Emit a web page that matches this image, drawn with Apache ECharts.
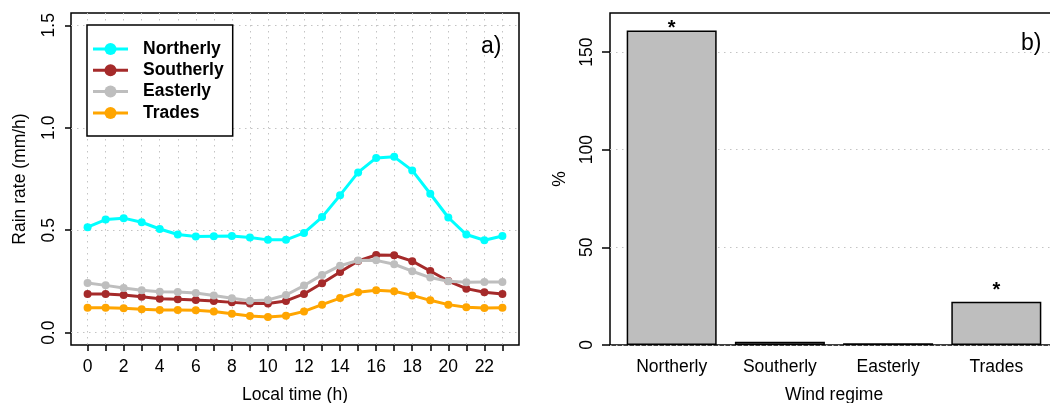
<!DOCTYPE html>
<html>
<head>
<meta charset="utf-8">
<script src="https://cdn.jsdelivr.net/npm/echarts@6/dist/echarts.min.js"></script>
<style>
html, body { margin: 0; padding: 0; background: #fff; }
#main { width: 1050px; height: 403px; }
</style>
</head>
<body>
<div id="main"></div>
<script>
// panel a) diurnal cycle of rain rate per wind regime
var hours = [0, 1, 2, 3, 4, 5, 6, 7, 8, 9, 10, 11, 12, 13, 14, 15, 16, 17, 18, 19, 20, 21, 22, 23];
var northerly = [0.515, 0.552, 0.559, 0.539, 0.506, 0.479, 0.469, 0.471, 0.472, 0.464, 0.453, 0.453,
                 0.487, 0.564, 0.671, 0.782, 0.853, 0.858, 0.792, 0.678, 0.562, 0.479, 0.451, 0.472];
var southerly = [0.189, 0.189, 0.184, 0.176, 0.166, 0.163, 0.160, 0.155, 0.148, 0.142, 0.142, 0.155,
                 0.189, 0.241, 0.296, 0.350, 0.379, 0.378, 0.349, 0.301, 0.252, 0.215, 0.197, 0.189];
var easterly = [0.243, 0.231, 0.218, 0.207, 0.200, 0.199, 0.194, 0.182, 0.168, 0.156, 0.160, 0.184,
                0.230, 0.282, 0.327, 0.352, 0.353, 0.334, 0.300, 0.269, 0.251, 0.246, 0.248, 0.248];
var trades = [0.122, 0.122, 0.119, 0.114, 0.111, 0.111, 0.109, 0.104, 0.093, 0.081, 0.077, 0.083,
              0.104, 0.137, 0.169, 0.197, 0.207, 0.202, 0.182, 0.158, 0.137, 0.124, 0.121, 0.122];
var hourLabels = [0, 2, 4, 6, 8, 10, 12, 14, 16, 18, 20, 22];
var rainTicks = [0, 0.5, 1, 1.5];

// panel b) percentage per wind regime
var regimes = ['Northerly', 'Southerly', 'Easterly', 'Trades'];
var percent = [161.0, 1.7, 0.9, 22.2];
var significant = ['*', '', '', '*'];
var percentTicks = [0, 50, 100, 150];

var colors = ['#00ffff', '#a52a2a', '#bebebe', '#ffa500'];
var font = 'Liberation Sans, Arial, sans-serif';
var fs = 17.5;
var dotted = { color: '#c4c4c4', width: 1, type: [1.5, 4.5] };

// R barplot layout: width 1, space 0.2 -> centres at 0.7 + 1.2 * i
function barCentre(i) { return 0.7 + 1.2 * i; }
var starGap = [-8, 0, 0, 1];

function pairs(ys) {
    return hours.map(function (h, i) { return [h, ys[i]]; });
}

var lineSeries = [
    { name: 'Northerly', data: pairs(northerly) },
    { name: 'Southerly', data: pairs(southerly) },
    { name: 'Easterly', data: pairs(easterly) },
    { name: 'Trades', data: pairs(trades) }
].map(function (s, i) {
    return {
        name: s.name,
        type: 'line',
        xAxisIndex: 0,
        yAxisIndex: 0,
        data: s.data,
        symbol: 'circle',
        symbolSize: 8,
        color: colors[i],
        lineStyle: { width: 3, color: colors[i] },
        itemStyle: { color: colors[i] },
        z: 3 + i
    };
});

var chart = echarts.init(document.getElementById('main'));

var option = {
    backgroundColor: '#fff',
    animation: false,
    textStyle: { fontFamily: font, color: '#000' },
    title: [
        { text: 'a)', left: 481, top: 35, padding: 0,
          textStyle: { fontFamily: font, fontSize: 23, fontWeight: 'normal', color: '#000' } },
        { text: 'b)', left: 1021, top: 32, padding: 0,
          textStyle: { fontFamily: font, fontSize: 23, fontWeight: 'normal', color: '#000' } }
    ],
    legend: {
        data: regimes,
        orient: 'vertical',
        left: 87,
        top: 25,
        padding: [15, 9, 14, 4.5],
        itemWidth: 35,
        itemHeight: 15,
        itemGap: 3.3,
        borderColor: '#000',
        borderWidth: 1.5,
        backgroundColor: '#fff',
        lineStyle: { width: 3 },
        textStyle: { fontFamily: font, fontSize: fs, fontWeight: 'bold', color: '#000', padding: [0, 0, 0, 10] }
    },
    grid: [
        { left: 71, width: 448, top: 13, height: 332, outerBoundsMode: 'none', containLabel: false,
          show: true, borderColor: '#000', borderWidth: 1.5, backgroundColor: 'transparent' },
        { left: 610, width: 448, top: 13, height: 332, outerBoundsMode: 'none', containLabel: false,
          show: true, borderColor: '#000', borderWidth: 1.5, backgroundColor: 'transparent' }
    ],
    xAxis: [
        {
            gridIndex: 0,
            type: 'value',
            min: -0.92,
            max: 23.92,
            name: 'Local time (h)',
            nameLocation: 'middle',
            nameGap: 41,
            nameTextStyle: { fontFamily: font, fontSize: fs, color: '#000' },
            axisLine: { show: false, onZero: false },
            axisTick: { show: true, length: 6, customValues: hours, lineStyle: { color: '#000', width: 1.5 } },
            axisLabel: { customValues: hourLabels, margin: 13, fontFamily: font, fontSize: fs, color: '#000' },
            splitLine: { show: true, lineStyle: dotted }
        },
        {
            gridIndex: 1,
            type: 'value',
            min: 0.016,
            max: 4.984,
            name: 'Wind regime',
            nameLocation: 'middle',
            nameGap: 41,
            nameTextStyle: { fontFamily: font, fontSize: fs, color: '#000' },
            axisLine: { show: false, onZero: false },
            axisTick: { show: false, customValues: regimes.map(function (r, i) { return barCentre(i); }) },
            axisLabel: {
                customValues: regimes.map(function (r, i) { return barCentre(i); }),
                margin: 13, fontFamily: font, fontSize: fs, color: '#000',
                formatter: function (v) { return regimes[Math.round((v - 0.7) / 1.2)]; }
            },
            splitLine: { show: false }
        }
    ],
    yAxis: [
        {
            gridIndex: 0,
            type: 'value',
            min: -0.06,
            max: 1.56,
            name: 'Rain rate (mm/h)',
            nameLocation: 'middle',
            nameGap: 42,
            nameTextStyle: { fontFamily: font, fontSize: fs, color: '#000' },
            axisLine: { show: false, onZero: false },
            axisTick: { show: true, length: 6, customValues: rainTicks, lineStyle: { color: '#000', width: 1.5 } },
            axisLabel: {
                customValues: rainTicks, rotate: 90, margin: 13, fontFamily: font, fontSize: fs, color: '#000',
                formatter: function (v) { return v.toFixed(1); }
            },
            splitLine: { show: true, lineStyle: dotted }
        },
        {
            gridIndex: 1,
            type: 'value',
            min: 0,
            max: 170,
            name: '%',
            nameLocation: 'middle',
            nameGap: 41,
            nameTextStyle: { fontFamily: font, fontSize: fs, color: '#000' },
            axisLine: { show: false, onZero: false },
            axisTick: { show: true, length: 8, customValues: percentTicks, lineStyle: { color: '#000', width: 1.5 } },
            axisLabel: { customValues: percentTicks, rotate: 90, margin: 14, fontFamily: font, fontSize: fs, color: '#000' },
            splitLine: { show: true, lineStyle: dotted }
        }
    ],
    series: lineSeries.concat([
        {
            name: 'percent',
            type: 'bar',
            xAxisIndex: 1,
            yAxisIndex: 1,
            barWidth: 90,
            data: percent.map(function (p, i) {
                return {
                    value: [barCentre(i), p],
                    label: { distance: starGap[i] }
                };
            }),
            itemStyle: { color: '#bebebe', borderColor: '#000', borderWidth: 1.5 },
            label: {
                show: true,
                position: 'top',
                fontFamily: font,
                fontSize: 20,
                fontWeight: 'bold',
                color: '#000',
                formatter: function (p) { return significant[p.dataIndex]; }
            },
            z: 3
        }
    ])
};

chart.setOption(option);
</script>
</body>
</html>
